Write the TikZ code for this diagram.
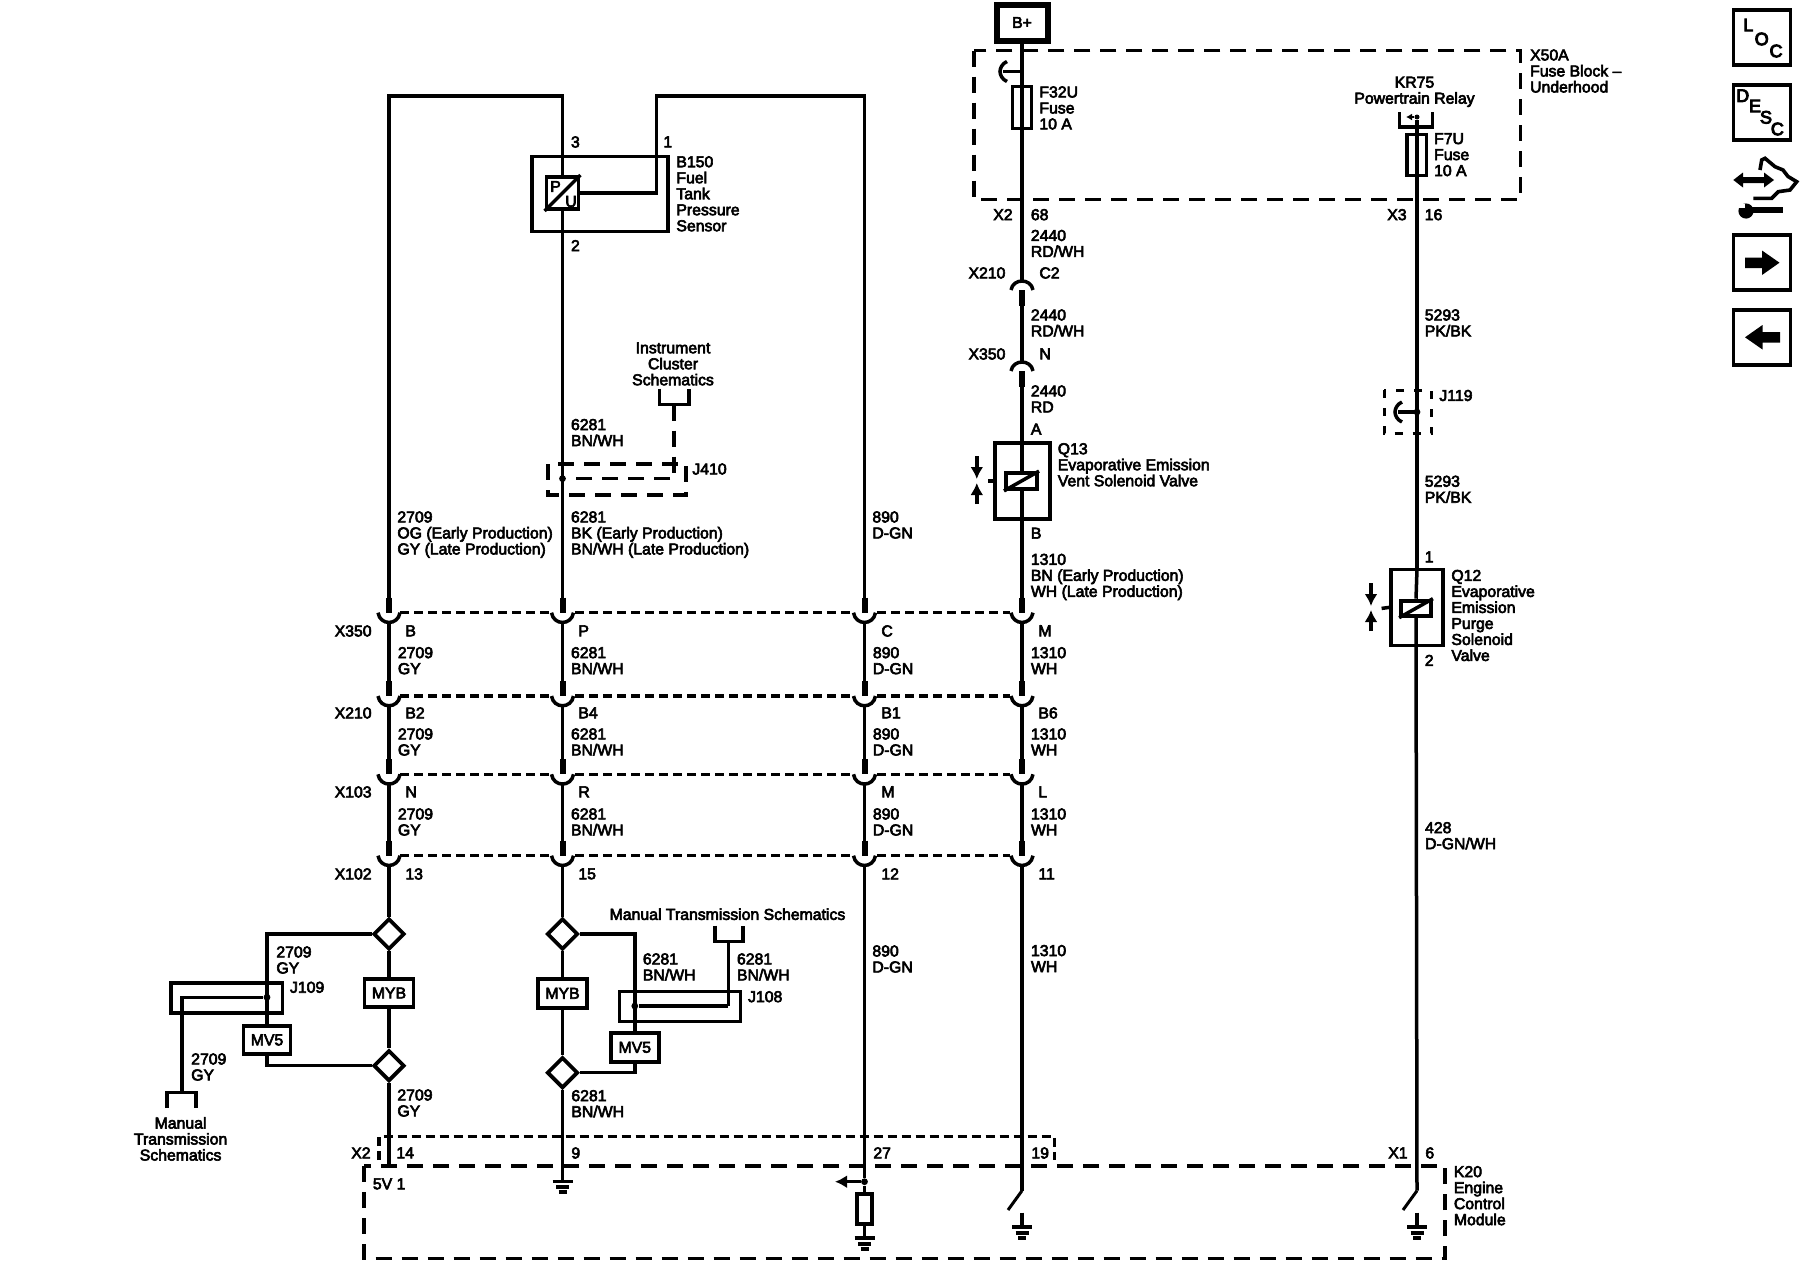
\documentclass[tikz,border=0pt]{standalone}
\usepackage{fontspec}
\setmainfont{Liberation Sans}
\usetikzlibrary{arrows.meta,shapes.geometric}
\newcommand{\rotulo}{\fontsize{7.9}{8}\selectfont\special{pdf:code 2 Tr 0.3 w}}
\newcommand{\rotulog}{\fontsize{9}{9}\selectfont\special{pdf:code 2 Tr 0.45 w}}

\tikzset{
	wire/.style={line width=1.75pt},
	stub/.style={line width=3pt},
	rowdash/.style={line width=1.75pt,dash pattern=on 4.5pt off 2.5pt},
	bigdash/.style={line width=1.75pt,dash pattern=on 8pt off 5pt},
	smalldash/.style={line width=1.5pt,dash pattern=on 4pt off 5pt},
	caja/.style={draw,line width=1.9pt,inner sep=0pt,fill=white,font=\rotulo},
	hueca/.style={draw,line width=1.9pt,inner sep=0pt},
	rombo/.style={draw,diamond,aspect=1,line width=1.9pt,inner sep=0pt,minimum width=15.5pt,minimum height=15.5pt,fill=white},
	lbl/.style={anchor=north west,yshift=3pt,inner sep=0pt,align=left,font=\rotulo},
	lblr/.style={anchor=north east,yshift=3pt,inner sep=0pt,align=right,font=\rotulo},
	lblc/.style={anchor=north,yshift=3pt,inner sep=0pt,align=center,font=\rotulo},
	letra/.style={inner sep=0pt,font=\rotulog},
	punto/.style={circle,fill,inner sep=0pt,minimum size=3.4pt},
	flecha/.style={line width=1.75pt,-{Latex[length=6pt,width=6.5pt]}}
}
% masa
\newcommand{\tierra}[2]{%
	\draw[wire] (#1-10,#2) -- (#1+10,#2);
	\draw[line width=2pt] (#1-6.5,#2+5.5) -- (#1+6.5,#2+5.5);
	\draw[line width=2pt] (#1-4,#2+10.5) -- (#1+4,#2+10.5);
}
% conector con gancho hacia la izquierda
\newcommand{\gancho}[2]{%
	\draw[wire] (#1,#2) -- (#1-19,#2);
	\draw[wire] (#1-15,#2-10) .. controls (#1-20,#2-8) and (#1-22,#2-3) .. (#1-22,#2) .. controls (#1-22,#2+3) and (#1-20,#2+8) .. (#1-15,#2+10);
}
% enchufe invertido
\newcommand{\tapa}[2]{%
	\draw[wire] (#1-11,#2+10) .. controls (#1-9,#2-2) and (#1+9,#2-2) .. (#1+11,#2+10);
	\draw[stub] (#1,#2+10) -- (#1,#2+26);
}

\begin{document}
\begin{tikzpicture}[x=0.5pt,y=-0.5pt]
	\useasboundingbox (0,0) rectangle (1800,1280);

	%Filas de enchufes
	\foreach \n/\x in {a/389,b/562.5,c/864.5,d/1022}
		\foreach \r/\y in {1/612.7,2/696,3/774.3,4/855.7} {
			\coordinate (\n\r t) at (\x,\y-15);
			\coordinate (\n\r b) at (\x,\y+10);
			\draw[stub] (\n\r t) -- (\x,\y);
			\draw[wire] (\x-11,\y) .. controls (\x-9,\y+13) and (\x+9,\y+13) .. (\x+11,\y);
		}
	\foreach \y in {612.7,696,774.3,855.7} {
		\draw[rowdash] (400,\y) -- (550,\y);
		\draw[rowdash] (575,\y) -- (852,\y);
		\draw[rowdash] (877,\y) -- (1010,\y);
	}
	\foreach \n in {a,b,c,d}
		\foreach \r/\s in {1/2,2/3,3/4}
			\draw[wire] (\n\r b) -- (\n\s t);

	%Etiquetas de las filas
	\foreach \r/\t/\y in {1/X350/631,2/X210/713,3/X103/792,4/X102/874}
		\node[lblr] (fila\r) at (372,\y) {\t};
	\foreach \n/\lx/\wx/\num/\col/\la/\lb/\lc/\ld in {a/405/397.5/2709/GY/B/B2/N/13,b/578/570.6/6281/{BN/WH}/P/B4/R/15,c/881/872.5/890/D-GN/C/B1/M/12,d/1038/1030.6/1310/WH/M/B6/L/11} {
		\node[lbl] (\n la) at (\lx,631) {\la};
		\node[lbl] (\n lb) at (\lx,713) {\lb};
		\node[lbl] (\n lc) at (\lx,792) {\lc};
		\node[lbl] (\n ld) at (\lx,874) {\ld};
		\node[lbl] (\n wa) at (\wx,652.7) {\num\\\col};
		\node[lbl] (\n wb) at (\wx,734) {\num\\\col};
		\node[lbl] (\n wc) at (\wx,814) {\num\\\col};
	}

	%Sensor B150
	\node[hueca,minimum width=68pt,minimum height=37.5pt] (sensor) at (600.2,193.9) {};
	\node[caja,minimum width=16pt,minimum height=16pt] (pu) at (562.5,193) {};
	\draw[wire] (pu.south west) -- (pu.north east);
	\node[letra,font=\rotulo] (pup) at (555.5,186.5) {P};
	\node[letra,font=\rotulo] (puu) at (571,201.5) {U};
	\coordinate (sup1) at (389,96);
	\coordinate (sup2) at (562.5,96);
	\coordinate (sup3) at (656.7,96);
	\coordinate (sup4) at (864.5,96);
	\draw[wire] (a1t) -- (sup1) -- (sup2) -- (pu);
	\draw[wire] (pu) -- (b1t);
	\draw[wire] (pu.east) -| (sup3) -- (sup4) -- (c1t);
	\node[lbl] (t3) at (570.6,142) {3};
	\node[lbl] (t1) at (663,142) {1};
	\node[lbl] (t2) at (570.6,245.7) {2};
	\node[lbl] (tB150) at (676,161.8) {B150\\Fuel\\Tank\\Pressure\\Sensor};

	%Empalme J410
	\node[lblc] (tcluster) at (673,348) {Instrument\\Cluster\\Schematics};
	\draw[wire] (659.7,388.6) -- (659.7,404.6) -- (688.8,404.6) -- (688.8,388.6);
	\draw[bigdash] (548,464) rectangle (685.8,495);
	\coordinate (j410a) at (674,404.6);
	\node[punto] (j410p) at (562.5,478.6) {};
	\draw[bigdash] (j410a) |- (j410p);
	\node[lbl] (tJ410) at (692,469) {J410};
	\node[lbl] (t6281a) at (570.6,424.6) {6281\\BN/WH};
	\node[lbl] (t2709a) at (397,517) {2709\\OG (Early Production)\\GY (Late Production)};
	\node[lbl] (t6281b) at (570.6,517) {6281\\BK (Early Production)\\BN/WH (Late Production)};
	\node[lbl] (t890a) at (872,517) {890\\D-GN};

	%Opciones columna izquierda
	\node[rombo] (diaA1) at (389,934) {};
	\node[rombo] (diaA2) at (389,1065.7) {};
	\node[caja,minimum width=24.5pt,minimum height=14pt] (mybA) at (389,993) {MYB};
	\node[caja,minimum width=23.5pt,minimum height=14pt] (mvA) at (267,1040) {MV5};
	\node[hueca,minimum width=55.7pt,minimum height=15.3pt] (j109) at (226.7,998) {};
	\draw[wire] (a4b) -- (diaA1) -- (mybA) -- (diaA2);
	\draw[wire,line width=2.3pt] (diaA1.west) -| (267,960);
	\draw[wire] (267,960) -- (mvA.north);
	\draw[wire] (mvA.south) |- (diaA2.west);
	\coordinate (x2a) at (389,1166);
	\draw[wire] (diaA2) -- (x2a);
	\node[punto] (j109p) at (267,997.3) {};
	\coordinate (brazoA) at (182,1092.3);
	\draw[wire] (j109p) -| (brazoA);
	\draw[wire] (167,1108) -- (167,1092.3) -- (196,1092.3) -- (196,1108);
	\node[lblc] (tmanA) at (180.6,1122.7) {Manual\\Transmission\\Schematics};
	\node[lbl] (t2709b) at (276,952) {2709\\GY};
	\node[lbl] (tJ109) at (289.6,987.3) {J109};
	\node[lbl] (t2709c) at (190.8,1059) {2709\\GY};
	\node[lbl] (t2709d) at (397,1095) {2709\\GY};

	%Opciones segunda columna
	\node[rombo] (diaB1) at (562.5,934) {};
	\node[rombo] (diaB2) at (562.5,1072.7) {};
	\node[caja,minimum width=24.5pt,minimum height=14.4pt] (mybB) at (562.5,993.3) {MYB};
	\node[caja,minimum width=24pt,minimum height=14.4pt] (mvB) at (634.8,1047.4) {MV5};
	\node[hueca,line width=1.5pt,minimum width=60.7pt,minimum height=15.3pt] (j108) at (679.7,1006.3) {};
	\draw[wire] (b4b) -- (diaB1) -- (mybB) -- (diaB2);
	\draw[wire,line width=2.3pt] (diaB1.east) -| (634.8,960);
	\draw[wire] (634.8,960) -- (mvB.north);
	\draw[wire] (mvB.south) |- (diaB2.east);
	\coordinate (masaB) at (562.5,1181);
	\draw[wire] (diaB2) -- (masaB);
	\tierra{562.5}{1181.7}
	\node[punto] (j108p) at (634.8,1006) {};
	\coordinate (j108q) at (728.3,1006);
	\coordinate (brazoB) at (728.3,941.7);
	\draw[stub,line width=2.4pt] (j108p) -- (j108q);
	\draw[wire] (j108q) -- (brazoB);
	\draw[wire] (714.8,925.7) -- (714.8,941.7) -- (743,941.7) -- (743,925.7);
	\node[lblc] (tmanB) at (727.5,914) {Manual Transmission Schematics};
	\node[lbl] (t6281c) at (642.5,959) {6281\\BN/WH};
	\node[lbl] (t6281d) at (736.6,959) {6281\\BN/WH};
	\node[lbl] (tJ108) at (747.7,996.7) {J108};
	\node[lbl] (t6281e) at (571,1095.7) {6281\\BN/WH};

	%Columna del 890
	\node[punto] (nudo27) at (864.5,1181.7) {};
	\node[caja,minimum width=7.5pt,minimum height=15pt] (resist) at (864.5,1209) {};
	\coordinate (masaC) at (864.5,1238);
	\coordinate (flecha27) at (835,1181.7);
	\draw[wire] (c4b) -- (nudo27) -- (resist) -- (masaC);
	\draw[flecha] (nudo27) -- (flecha27);
	\tierra{864.5}{1238}
	\node[lbl] (t890b) at (872,951) {890\\D-GN};

	%Columna de Q13
	\node[caja,line width=3pt,minimum width=25.5pt,minimum height=18pt] (bmas) at (1022,22.5) {B+};
	\node[hueca,line width=1.7pt,minimum width=9.6pt,minimum height=21pt] (f32u) at (1022,107.7) {};
	\draw[wire] (bmas) -- (f32u.north) -- (f32u.south) -- (1022,280);
	\gancho{1022}{71.5}
	\draw[bigdash] (974,50.7) rectangle (1520.4,199.5);
	\node[lbl] (tF32U) at (1039,92) {F32U\\Fuse\\10 A};
	\node[lbl] (tX50A) at (1529.7,55) {X50A\\Fuse Block –\\Underhood};
	\node[lblr] (tX2) at (1013,214.7) {X2};
	\node[lbl] (t68) at (1030.5,214.7) {68};
	\node[lbl] (t2440a) at (1030.5,235.5) {2440\\RD/WH};
	\node[lblr] (tX210) at (1005.8,273) {X210};
	\node[lbl] (tC2) at (1039,273) {C2};
	\tapa{1022}{280}
	\draw[wire] (1022,306) -- (1022,361);
	\node[lbl] (t2440b) at (1030.5,315) {2440\\RD/WH};
	\node[lblr] (tX350) at (1005.8,354) {X350};
	\node[lbl] (tN) at (1039,354) {N};
	\tapa{1022}{361}
	\node[lbl] (t2440c) at (1030.5,391) {2440\\RD};
	\node[lbl] (tA) at (1030.5,429.3) {A};
	\node[hueca,minimum width=27.4pt,minimum height=38pt] (q13) at (1022.3,481) {};
	\draw[wire] (1022,387) -- (1022,472);
	\draw[wire] (1022,489) -- (d1t);
	\node[caja,minimum width=15.6pt,minimum height=8pt] (solA) at (1021.5,481) {};
	\draw[wire] (solA.south west) -- (solA.north east);
	\draw[wire] (q13.west) -- (987.7,481);
	\coordinate (flA1) at (976.8,456);
	\coordinate (flA2) at (976.8,504);
	\draw[flecha] (flA1) -- (976.8,479);
	\draw[flecha] (flA2) -- (976.8,483);
	\node[lbl] (tQ13) at (1057.4,448.8) {Q13\\Evaporative Emission\\Vent Solenoid Valve};
	\node[lbl] (tB) at (1030.5,533.4) {B};
	\node[lbl] (t1310a) at (1030.5,559.4) {1310\\BN (Early Production)\\WH (Late Production)};
	\node[lbl] (t1310b) at (1030.6,950.6) {1310\\WH};

	%Columna de Q12
	\node[lblc] (tKR75) at (1414.5,82.4) {KR75\\Powertrain Relay};
	\draw[wire] (1399.7,112) -- (1399.7,127) -- (1432.6,127) -- (1432.6,112);
	\node[punto,minimum size=2.5pt] (kr75p) at (1417,117) {};
	\draw[line width=1.3pt,-{Latex[length=3pt,width=3.5pt]}] (kr75p) -- (1406,117);
	\node[hueca,line width=1.7pt,minimum width=9.9pt,minimum height=20.6pt] (f7u) at (1416.7,155) {};
	\draw[wire] (kr75p) -- (1417,569.4);
	\node[lbl] (tF7U) at (1433.7,138.8) {F7U\\Fuse\\10 A};
	\node[lblr] (tX3) at (1407,214.7) {X3};
	\node[lbl] (t16) at (1424.4,214.7) {16};
	\node[lbl] (t5293a) at (1424.4,315) {5293\\PK/BK};
	\draw[smalldash] (1384.3,390) rectangle (1431.5,433.7);
	\node[punto] (j119p) at (1417,412) {};
	\gancho{1417}{412}
	\node[lbl] (tJ119) at (1439,395.5) {J119};
	\node[lbl] (t5293b) at (1424.4,481.3) {5293\\PK/BK};
	\node[lbl] (t1b) at (1424.4,557) {1};
	\node[hueca,minimum width=26pt,minimum height=38pt] (q12) at (1417,607.4) {};
	\node[caja,minimum width=15pt,minimum height=7.6pt] (solB) at (1416,608.2) {};
	\draw[wire] (1417,569.4) -- (solB.north);
	\draw[wire] (solB.south west) -- (solB.north east);
	\draw[wire] (q12.west) -- (1381.6,608.4);
	\coordinate (flB1) at (1371,583);
	\coordinate (flB2) at (1371,631);
	\draw[flecha] (flB1) -- (1371,606);
	\draw[flecha] (flB2) -- (1371,610);
	\node[lbl] (tQ12) at (1451,575.5) {Q12\\Evaporative\\Emission\\Purge\\Solenoid\\Valve};
	\node[lbl] (t2c) at (1424.4,660.5) {2};
	\node[lbl] (t428) at (1424.7,827.7) {428\\D-GN/WH};
	\coordinate (finE) at (1417,1190.7);
	\draw[wire] (solB.south) -- (finE);
	\draw[line width=1.5pt] (finE) -- (1403,1210);
	\draw[wire] (1417,1212.7) -- (1417,1227);
	\tierra{1417}{1227}

	%Interruptor de la columna 4
	\coordinate (finD) at (1022,1190.7);
	\draw[wire] (d4b) -- (finD);
	\draw[line width=1.5pt] (finD) -- (1008,1210);
	\draw[wire] (1022,1212.7) -- (1022,1227);
	\tierra{1022}{1227}

	%Modulo K20
	\draw[rowdash] (379,1160) -- (379,1136.7) -- (1054.6,1136.7) -- (1054.6,1160);
	\draw[bigdash] (364,1166) rectangle (1445,1258.5);
	\node[lblr] (tX2b) at (371,1153) {X2};
	\node[lbl] (t14) at (396,1153) {14};
	\node[lbl] (t9) at (571,1153) {9};
	\node[lbl] (t27) at (873,1153) {27};
	\node[lbl] (t19) at (1031,1153) {19};
	\node[lblr] (tX1) at (1408,1153) {X1};
	\node[lbl] (t6) at (1425,1153) {6};
	\node[lbl] (t5V) at (372.5,1184) {5V 1};
	\node[lbl] (tK20) at (1453.5,1171.7) {K20\\Engine\\Control\\Module};

	%Iconos
	\foreach \n/\y in {loc/37.5,desc/112.5,der/262.5,izq/337.5}
		\node[hueca,minimum width=28.5pt,minimum height=27.5pt] (\n) at (1762,\y) {};
	\node[letra] (locL) at (1748.3,25) {L};
	\node[letra] (locO) at (1761.7,39) {O};
	\node[letra] (locC) at (1776,51) {C};
	\node[letra] (descD) at (1742.7,95.7) {D};
	\node[letra] (descE) at (1755,106) {E};
	\node[letra] (descS) at (1766,117.3) {S};
	\node[letra] (descC) at (1777.3,129) {C};
	\fill (1745,257.5) -- (1762,257.5) -- (1762,250.5) -- (1779.5,262.7) -- (1762,275) -- (1762,268) -- (1745,268) -- cycle;
	\fill (1780,332) -- (1762.5,332) -- (1762.5,325) -- (1745,337.3) -- (1762.5,349.5) -- (1762.5,342.5) -- (1780,342.5) -- cycle;
	\fill (1733.3,180) -- (1743,172.5) -- (1743,177) -- (1764,177) -- (1764,172.5) -- (1774,180) -- (1764,187.5) -- (1764,183) -- (1743,183) -- (1743,187.5) -- cycle;
	\draw[line width=1.8pt] (1753.3,198.3) -- (1771.7,198.3) -- (1778.3,191.7) -- (1790,190) -- (1796.7,181.7) -- (1788,176.5) -- (1783,170) -- (1775,166.7) -- (1765,158.3) -- (1761.7,160) -- (1760,170);
	\draw[line width=3pt] (1746,210) -- (1783,210);
	\fill (1746,211) circle (3.8pt);
	\fill[white] (1737,204) rectangle (1745,208);
\end{tikzpicture}
\end{document}
